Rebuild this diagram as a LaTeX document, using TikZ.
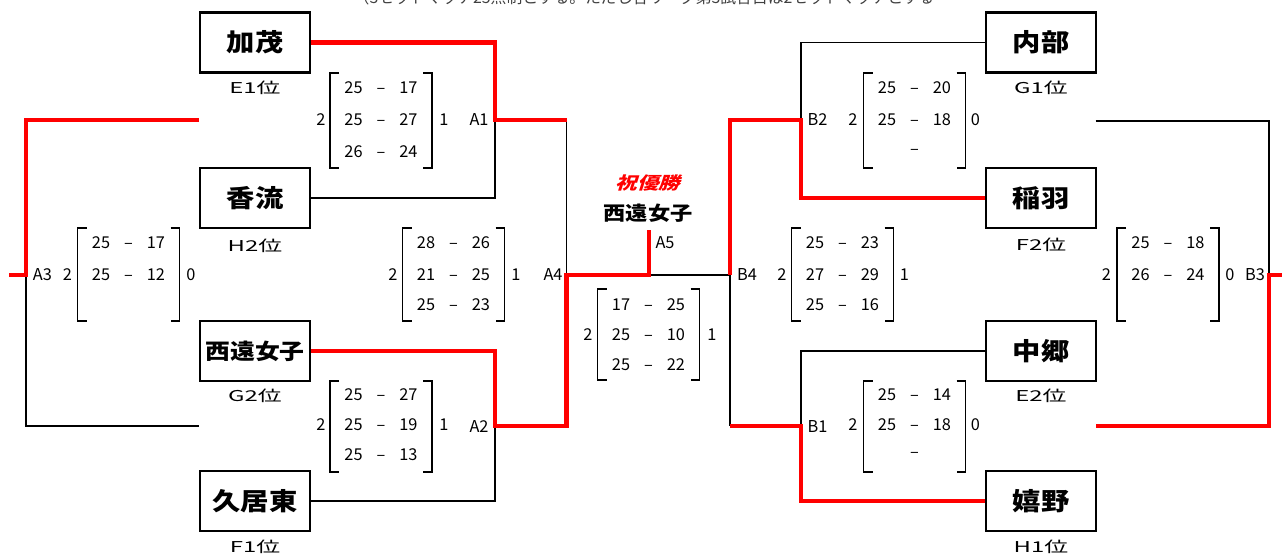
\documentclass[tikz,border=0pt]{standalone}
\usepackage{fontspec}
\newfontfamily\jp{Noto Sans CJK JP}
\newfontfamily\jpsl{Noto Sans CJK JP}[FakeSlant=0.25]
\usetikzlibrary{calc}
\tikzset{
  team/.style={draw, line width=1.4pt, minimum width=2.2cm, minimum height=1.2cm,
    inner sep=0pt, font=\jp\bfseries\fontsize{14}{14}\selectfont},
  teamlong/.style={team, font=\jp\bfseries\fontsize{12.3}{12.3}\selectfont},
  rank/.style={inner sep=0pt, font=\jp\fontsize{8.5}{8.5}\selectfont},
  score/.style={inner sep=0pt, font=\jp\fontsize{9.3}{9.3}\selectfont},
  lose/.style={black, line width=1pt},
  win/.style={red, line width=2.8pt},
  bracket/.style={black, line width=1.1pt}
}
\newcommand{\wide}[2]{\scalebox{#1}[1]{#2}}
\newcommand{\setscore}[2]{\makebox[1.4em][r]{#1}\makebox[2.25em]{–}\makebox[1.4em][l]{#2}}

\begin{document}
\begin{tikzpicture}[x=0.02cm, y=-0.02cm]
    \useasboundingbox (0,0) rectangle (1282,556);
    \fill[white] (0,0) rectangle (1282,556);

    % note at the top (cut off by the page)
    \node[inner sep=0pt, black!75, font=\jp\fontsize{9}{9}\selectfont] (note) at (644,-3)
        {（3セットマッチ25点制とする。ただし各リーグ第3試合目は2セットマッチとする};

    %Left: teams
    \node[team] (kamo) at (255,42.5) {\wide{1.15}{加茂}};
    \node[team] (koryu) at (255,198) {\wide{1.15}{香流}};
    \node[teamlong] (seien) at (255,351) {\wide{1.15}{西遠女子}};
    \node[team] (kui) at (255,501) {\wide{1.15}{久居東}};

    %Right: teams
    \node[team] (naibu) at (1041,42.5) {\wide{1.15}{内部}};
    \node[team] (inaba) at (1041,198) {\wide{1.15}{稲羽}};
    \node[team] (nakago) at (1041,351) {\wide{1.15}{中郷}};
    \node[team] (ureshino) at (1041,501) {\wide{1.15}{嬉野}};

    % ranks under the boxes
    \foreach \x/\y/\t [count=\i] in {255/88/E1位, 255/246/H2位, 255/396/G2位, 255/547/F1位,
        1041/88/G1位, 1041/245/F2位, 1041/396/E2位, 1041/547/H1位}
        \node[rank] (rk\i) at (\x,\y) {\wide{1.6}{\t}};

    % junctions
    \coordinate (a1) at (495,120);
    \coordinate (a2) at (495,426);
    \coordinate (a4top) at (566.5,120);
    \coordinate (a4) at (566.5,275);
    \coordinate (a4bot) at (566.5,426);
    \coordinate (a5) at (649,275);
    \coordinate (a5top) at (649,230);
    \coordinate (b4top) at (730,120);
    \coordinate (b4) at (730,275);
    \coordinate (b4bot) at (730,426);
    \coordinate (b2) at (801,120);
    \coordinate (b1) at (801,426);
    \coordinate (a3) at (26,275);
    \coordinate (a3in) at (199,120);
    \coordinate (a3out) at (199,426);
    \coordinate (a3end) at (9,275);
    \coordinate (b3) at (1269,275);
    \coordinate (b3in) at (1095.5,120.7);
    \coordinate (b3out) at (1095.5,426);
    \coordinate (b3end) at (1282,275);

    %losing lines
    \draw[lose] (koryu.east) -| (a1);
    \draw[lose] (kui.east) -| (a2);
    \draw[lose] (a4top) -- (a4);
    \draw[lose] (a5) -- (b4);
    \draw[lose] (b4) -- (b4bot);
    \draw[lose] (naibu.west) -| (b2);
    \draw[lose] (nakago.west) -| (b1);
    \draw[lose] (a3) |- (a3out);
    \draw[lose] (b3in) -| (b3);

    %winning lines
    \draw[win] (kamo.east) -| (a1) -- (a4top);
    \draw[win] (seien.east) -| (a2) -- (a4bot) -- (a4) -- (a5) -- (a5top);
    \draw[win] (inaba.west) -| (b2) -- (b4top) -- (b4);
    \draw[win] (ureshino.west) -| (b1) -- (b4bot);
    \draw[win] (a3in) -| (a3) -- (a3end);
    \draw[win] (b3end) -- (b3) |- (b3out);

    % champion
    \node[inner sep=0pt, red, font=\jpsl\bfseries\fontsize{9.8}{9.8}\selectfont] (yusho) at (648,183)
        {\wide{1.25}{祝優勝}};
    \node[inner sep=0pt, font=\jp\bfseries\fontsize{11}{11}\selectfont] (champ) at (648,213)
        {\wide{1.15}{西遠女子}};

    %score brackets
    \foreach \cx/\yt/\yb in {381/73/168, 381/381/472, 453.5/228/321, 128.5/228/321, 648.5/289/380,
        914.5/73/168, 914.5/381/472, 842.5/228/321, 1168/228/321}{
        \draw[bracket] (\cx-42,\yt) -| (\cx-51,\yb) -- ++(9,0);
        \draw[bracket] (\cx+42,\yt) -| (\cx+51,\yb) -- ++(-9,0);
    }

    %set scores
    \foreach \cx/\y/\a/\b [count=\i] in {381/88/25/17, 381/120/25/27, 381/152/26/24,
        381/395/25/27, 381/425/25/19, 381/455/25/13,
        453.5/243/28/26, 453.5/275/21/25, 453.5/305/25/23,
        128.5/243/25/17, 128.5/275/25/12,
        648.5/305/17/25, 648.5/335/25/10, 648.5/365/25/22,
        914.5/88/25/20, 914.5/120/25/18, 914.5/152//,
        914.5/395/25/14, 914.5/425/25/18, 914.5/455//,
        842.5/243/25/23, 842.5/275/27/29, 842.5/305/25/16,
        1168/243/25/18, 1168/275/26/24}
        \node[score] (sc\i) at (\cx,\y) {\setscore{\a}{\b}};

    %sets won and match labels
    \foreach \x/\y/\t [count=\i] in {321/120/2, 444/120/1, 321/425/2, 444/425/1,
        393/275/2, 516/275/1, 67.5/275/2, 191/275/0, 588/335/2, 712/335/1,
        853/120/2, 975.5/120/0, 853/425/2, 975.5/425/0, 782/275/2, 904.5/275/1,
        1106.5/275/2, 1230/275/0,
        479/120/A1, 479/426/A2, 42.5/275/A3, 553/275/A4, 665/243/A5,
        817.5/426/B1, 817.5/120/B2, 1255/275/B3, 747/275/B4}
        \node[score] (n\i) at (\x,\y) {\t};
\end{tikzpicture}
\end{document}
